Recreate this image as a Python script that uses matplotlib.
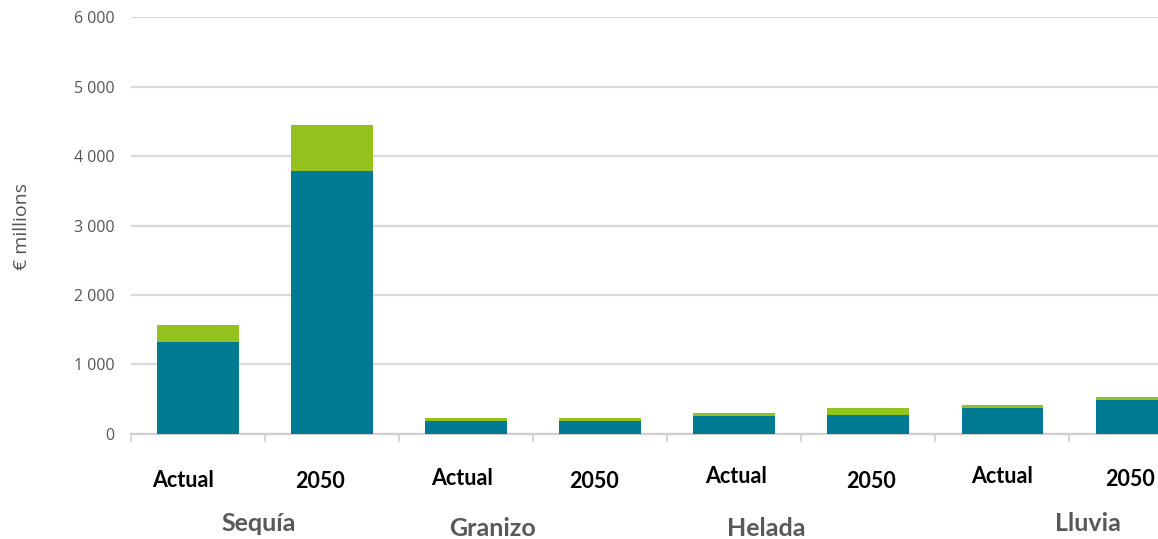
import numpy as np
import matplotlib.pyplot as plt
from matplotlib.ticker import FuncFormatter

# data (EUR millions)
periods = ['Actual', '2050', 'Actual', '2050', 'Actual', '2050', 'Actual', '2050']
hazards = ['Sequía', 'Granizo', 'Helada', 'Lluvia']
base_losses = [1330, 3780, 190, 190, 260, 275, 380, 490]
extra_losses = [240, 670, 40, 40, 45, 100, 40, 45]

blue = '#007A93'
green = '#95C11F'
grid_col = '#d9d9d9'

fig = plt.figure(figsize=(11.58, 5.39), dpi=100)
ax = fig.add_axes([0.113, 0.195, 0.887, 0.773])

x = np.arange(len(periods))
ax.bar(x, base_losses, width=0.61, color=blue, zorder=3)
ax.bar(x, extra_losses, width=0.61, bottom=base_losses, color=green, zorder=3)

ax.set_yticks(np.arange(0, 6001, 1000))
ax.yaxis.set_major_formatter(FuncFormatter(lambda v, p: f'{int(v):,}'.replace(',', ' ')))
ax.grid(axis='y', color=grid_col, linewidth=1.6, zorder=0)
ax.tick_params(axis='y', length=0, pad=12, labelsize=11.5, labelcolor='#555555')
for lab in ax.get_yticklabels():
    lab.set_family('Open Sans')

# slot boundaries as tick marks, labels drawn by hand
ax.set_xticks(np.arange(-0.5, 7.6, 1))
ax.set_xticklabels([])
ax.tick_params(axis='x', length=6, width=1.2, color='#d0d0d0')

# chart is cut off on the right, as in the source
ax.set_xlim(-0.5, 7.16)
ax.set_ylim(0, 6000)

for s in ['top', 'right', 'left']:
    ax.spines[s].set_visible(False)
ax.spines['bottom'].set_color('#d0d0d0')
ax.spines['bottom'].set_linewidth(1.6)

trans = ax.get_xaxis_transform()
# labels sit a little off-centre in the source
period_dx = [-0.11, -0.09, -0.03, -0.045, 0.015, 0.02, 0.0, -0.05]
period_y = [-0.113, -0.115, -0.108, -0.115, -0.103, -0.115, -0.103, -0.11]
for xi, lab, dx, yy in zip(x, periods, period_dx, period_y):
    ax.text(xi + dx, yy, lab, transform=trans, ha='center', va='center',
            fontsize=15.5, fontweight='bold', family='Lato', color='black')

hazard_x = [0.45, 2.2, 4.24, 6.64]
hazard_y = [-0.216, -0.226, -0.226, -0.216]
for hx, lab, yy in zip(hazard_x, hazards, hazard_y):
    ax.text(hx, yy, lab, transform=trans, ha='center', va='center',
            fontsize=18, fontweight='bold', family='Lato', color='#595959')

fig.text(0.019, 0.58, '€ millions', rotation=90, ha='center', va='center',
         fontsize=14, family='Open Sans', color='#555555')

fig.savefig('out.png', dpi=100)
